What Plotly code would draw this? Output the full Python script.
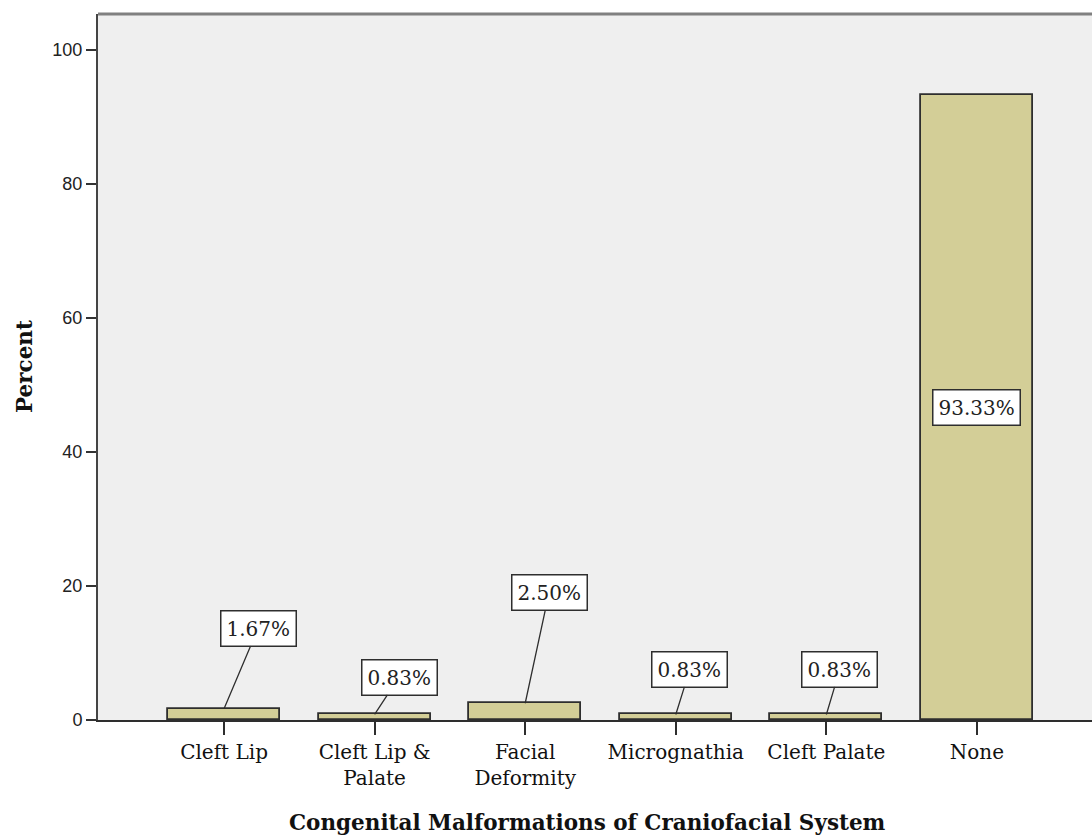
import plotly.graph_objects as go

# Congenital malformations of the craniofacial system (percent of cases)
categories = ["Cleft Lip", "Cleft Lip &<br>Palate", "Facial<br>Deformity",
              "Micrognathia", "Cleft Palate", "None"]
percent = [1.67, 0.83, 2.50, 0.83, 0.83, 93.33]
y_ticks = [0, 20, 40, 60, 80, 100]

# where each value label sits (x shift from the bar centre, label height in axis units)
label_dx = [0.226, 0.162, 0.158, 0.094, 0.090, 0.0]
label_y = [13.7, 6.4, 18.96, 7.6, 7.6, None]

BAR = "#d3ce97"
EDGE = "#2e2e2e"
idx = list(range(len(categories)))

fig = go.Figure()
fig.add_trace(go.Bar(
    x=idx, y=percent, width=0.745,
    marker=dict(color=BAR, line=dict(color=EDGE, width=1.8)),
    hoverinfo="skip",
))

annotations = []
for i, v in enumerate(percent):
    txt = f"{v:.2f}%"
    if label_y[i] is None:
        # label drawn inside the tall bar, centred halfway up
        annotations.append(dict(
            x=i, y=v / 2, xref="x", yref="y", text=txt, showarrow=False,
            font=dict(family="DejaVu Serif", size=20, color="#222"),
            bgcolor="white", bordercolor=EDGE, borderwidth=1.5, borderpad=5,
        ))
    else:
        annotations.append(dict(
            x=i, y=v, xref="x", yref="y",
            ax=i + label_dx[i], ay=label_y[i], axref="x", ayref="y",
            text=txt, showarrow=True, arrowhead=0, arrowwidth=1.3,
            arrowcolor=EDGE,
            font=dict(family="DejaVu Serif", size=20, color="#222"),
            bgcolor="white", bordercolor=EDGE, borderwidth=1.5, borderpad=5,
        ))

# axis titles
annotations.append(dict(
    text="<b>Congenital Malformations of Craniofacial System</b>",
    xref="paper", yref="paper", x=0.492, y=-0.1445,
    xanchor="center", yanchor="middle", showarrow=False,
    font=dict(family="DejaVu Serif", size=21.5, color="#111"),
))
annotations.append(dict(
    text="<b>Percent</b>", textangle=-90,
    xref="paper", yref="paper", x=-0.0744, y=0.5,
    xanchor="center", yanchor="middle", showarrow=False,
    font=dict(family="DejaVu Serif", size=21.5, color="#111"),
))

fig.update_layout(
    width=1092, height=837,
    margin=dict(l=98, r=0, t=14, b=117),
    paper_bgcolor="white", plot_bgcolor="#efefef",
    showlegend=False, bargap=0,
    annotations=annotations,
    shapes=[dict(type="line", xref="paper", yref="paper", x0=0, x1=1, y0=1, y1=1,
                 line=dict(color="#808080", width=3))],
)
fig.update_xaxes(
    range=[-0.837, 5.764], tickmode="array", tickvals=idx, ticktext=categories,
    showgrid=False, zeroline=False, showline=True, linecolor=EDGE, linewidth=1.5,
    ticks="outside", ticklen=13, tickwidth=2, tickcolor=EDGE,
    tickfont=dict(family="DejaVu Serif", size=20, color="#111"),
)
fig.update_yaxes(
    range=[0, 105.37], tickmode="array", tickvals=y_ticks,
    showgrid=False, zeroline=False, showline=True, linecolor="#444", linewidth=2,
    ticks="outside", ticklen=10, tickwidth=2, tickcolor="#333",
    tickfont=dict(family="Liberation Sans", size=18, color="#222"),
)

fig.write_html("out.html")
